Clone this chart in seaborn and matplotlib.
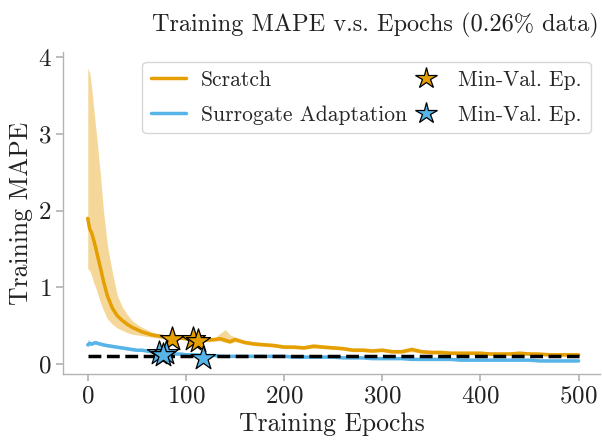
import numpy as np
import pandas as pd
import matplotlib
matplotlib.use("Agg")
import matplotlib.pyplot as plt
import seaborn as sns
from matplotlib.lines import Line2D

# ── Data ──────────────────────────────────────────────────────────────────────
epochs = [0, 2, 4, 6, 8, 10, 13, 16, 20, 25, 30, 35, 40, 45, 50, 55, 60, 65, 70, 75,
          80, 85, 90, 95, 100, 110, 120, 130, 135, 140, 145, 150,
          160, 170, 180, 190, 200, 210, 220, 230, 240, 250, 260, 270, 280, 290, 300,
          310, 320, 330, 340, 350, 360, 370, 380, 390, 400, 410, 420, 430, 440, 450,
          460, 470, 480, 490, 500]

scratch_mean = [1.90, 1.76, 1.71, 1.62, 1.52, 1.41, 1.25, 1.08, 0.89, 0.73, 0.63, 0.57, 0.52, 0.48, 0.45, 0.42, 0.40, 0.38, 0.37, 0.36,
                0.35, 0.35, 0.34, 0.34, 0.33, 0.32, 0.31, 0.32, 0.33, 0.31, 0.29, 0.32,
                0.28, 0.26, 0.25, 0.24, 0.22, 0.22, 0.21, 0.23, 0.22, 0.21, 0.20, 0.18, 0.18, 0.17, 0.18,
                0.16, 0.16, 0.19, 0.16, 0.15, 0.15, 0.14, 0.14, 0.14, 0.14, 0.13, 0.13, 0.13, 0.14, 0.13,
                0.13, 0.12, 0.12, 0.12, 0.12]
scratch_low = [1.24, 1.22, 1.15, 1.06, 1.00, 0.92, 0.80, 0.70, 0.59, 0.52, 0.47, 0.44, 0.41, 0.39, 0.38, 0.37, 0.36, 0.35, 0.34, 0.33,
               0.33, 0.32, 0.32, 0.32, 0.31, 0.30, 0.29, 0.30, 0.30, 0.28, 0.27, 0.29,
               0.26, 0.24, 0.23, 0.22, 0.20, 0.20, 0.19, 0.21, 0.20, 0.19, 0.18, 0.16, 0.16, 0.15, 0.16,
               0.14, 0.14, 0.16, 0.14, 0.13, 0.13, 0.12, 0.12, 0.12, 0.12, 0.11, 0.11, 0.11, 0.12, 0.11,
               0.11, 0.10, 0.10, 0.10, 0.10]
scratch_high = [3.86, 3.80, 3.60, 3.35, 3.10, 2.85, 2.45, 2.00, 1.55, 1.20, 0.90, 0.75, 0.65, 0.57, 0.52, 0.48, 0.45, 0.42, 0.40, 0.39,
                0.38, 0.37, 0.36, 0.36, 0.35, 0.34, 0.33, 0.35, 0.40, 0.45, 0.38, 0.35,
                0.31, 0.29, 0.28, 0.27, 0.25, 0.25, 0.24, 0.27, 0.25, 0.24, 0.23, 0.21, 0.21, 0.20, 0.21,
                0.19, 0.19, 0.22, 0.19, 0.18, 0.18, 0.17, 0.17, 0.17, 0.17, 0.16, 0.16, 0.16, 0.17, 0.16,
                0.15, 0.14, 0.14, 0.14, 0.14]

surr_mean = [0.25, 0.27, 0.26, 0.27, 0.28, 0.27, 0.26, 0.25, 0.24, 0.23, 0.22, 0.21, 0.20, 0.19, 0.18, 0.18, 0.17, 0.16, 0.16, 0.15,
             0.14, 0.14, 0.13, 0.13, 0.12, 0.12, 0.11, 0.11, 0.10, 0.10, 0.10, 0.10,
             0.10, 0.10, 0.10, 0.10, 0.10, 0.09, 0.09, 0.09, 0.09, 0.09, 0.08, 0.08, 0.08, 0.07, 0.07,
             0.07, 0.07, 0.06, 0.06, 0.06, 0.06, 0.06, 0.05, 0.05, 0.05, 0.05, 0.05, 0.05, 0.05, 0.05,
             0.04, 0.04, 0.04, 0.04, 0.04]
surr_low = [0.22, 0.24, 0.24, 0.25, 0.26, 0.25, 0.24, 0.23, 0.22, 0.21, 0.20, 0.19, 0.18, 0.17, 0.17, 0.17, 0.16, 0.15, 0.15, 0.14,
            0.13, 0.13, 0.12, 0.12, 0.11, 0.11, 0.10, 0.10, 0.09, 0.09, 0.09, 0.09,
            0.09, 0.09, 0.09, 0.09, 0.09, 0.08, 0.08, 0.08, 0.08, 0.08, 0.07, 0.07, 0.07, 0.06, 0.06,
            0.06, 0.06, 0.05, 0.05, 0.05, 0.05, 0.05, 0.04, 0.04, 0.04, 0.04, 0.04, 0.04, 0.04, 0.04,
            0.03, 0.03, 0.03, 0.03, 0.03]
surr_high = [0.33, 0.30, 0.28, 0.29, 0.30, 0.29, 0.28, 0.27, 0.26, 0.25, 0.24, 0.23, 0.22, 0.21, 0.20, 0.19, 0.18, 0.17, 0.17, 0.16,
             0.15, 0.15, 0.14, 0.14, 0.13, 0.13, 0.12, 0.12, 0.11, 0.11, 0.11, 0.11,
             0.11, 0.11, 0.11, 0.11, 0.11, 0.10, 0.10, 0.10, 0.10, 0.10, 0.09, 0.09, 0.09, 0.08, 0.08,
             0.08, 0.08, 0.07, 0.07, 0.07, 0.07, 0.07, 0.06, 0.06, 0.06, 0.06, 0.06, 0.06, 0.06, 0.06,
             0.05, 0.05, 0.05, 0.05, 0.05]

# min-validation epochs (one star per seed)
scratch_star_ep = [86, 107, 112]
scratch_star_val = [0.33, 0.33, 0.30]
surr_star_ep = [73, 80, 77, 117]
surr_star_val = [0.15, 0.15, 0.12, 0.08]

baseline = 0.10

ORANGE, BLUE = '#E69F00', '#56B4E9'

df = pd.DataFrame({'epoch': epochs, 'Scratch': scratch_mean, 'Surrogate Adaptation': surr_mean})
long = df.melt(id_vars='epoch', var_name='model', value_name='mape')

# ── Plot ──────────────────────────────────────────────────────────────────────
sns.set_theme(style="ticks", rc={'axes.edgecolor': '.7', 'xtick.color': '.7', 'ytick.color': '.7',
                                 'axes.linewidth': 1.0})
plt.rcParams['font.family'] = 'serif'
plt.rcParams['font.serif'] = ['cmr10']
plt.rcParams['mathtext.fontset'] = 'cm'
plt.rcParams['axes.formatter.use_mathtext'] = True

fig = plt.figure(figsize=(6.02, 4.41), dpi=100)
ax = fig.add_axes([0.105, 0.152, 0.892, 0.73])

ax.fill_between(epochs, scratch_low, scratch_high, color=ORANGE, alpha=0.4, linewidth=0)
ax.fill_between(epochs, surr_low, surr_high, color=BLUE, alpha=0.4, linewidth=0)
sns.lineplot(data=long, x='epoch', y='mape', hue='model', palette={'Scratch': ORANGE, 'Surrogate Adaptation': BLUE},
             linewidth=2.5, ax=ax, legend=False)
ax.hlines(baseline, epochs[0], epochs[-1], colors='black', linestyles='--', linewidth=2.5, zorder=3)

ax.scatter(scratch_star_ep, scratch_star_val, marker='*', s=330, color=ORANGE, edgecolor='black', linewidth=0.9, zorder=4)
ax.scatter(surr_star_ep, surr_star_val, marker='*', s=330, color=BLUE, edgecolor='black', linewidth=0.9, zorder=4)

ax.set_xlim(-25, 522)
ax.set_ylim(-0.13, 4.07)
ax.set_xticks([0, 100, 200, 300, 400, 500])
ax.set_yticks([0, 1, 2, 3, 4])
ax.tick_params(labelsize=18, labelcolor='#222222', length=5)
ax.set_xlabel('Training Epochs', fontsize=18.5, color='#222222', labelpad=3)
ax.set_ylabel('Training MAPE', fontsize=18.5, color='#222222', labelpad=3)
sns.despine(ax=ax)

fig.text(0.623, 0.943, 'Training MAPE v.s. Epochs (0.26% data)', fontsize=17.5, ha='center', va='center', color='#222222')

handles = [Line2D([], [], color=ORANGE, lw=2.5), Line2D([], [], color=BLUE, lw=2.5),
           Line2D([], [], marker='*', ls='', markersize=16, markerfacecolor=ORANGE, markeredgecolor='black', markeredgewidth=0.9),
           Line2D([], [], marker='*', ls='', markersize=16, markerfacecolor=BLUE, markeredgecolor='black', markeredgewidth=0.9)]
labels = ['Scratch', 'Surrogate Adaptation', 'Min-Val. Ep.', 'Min-Val. Ep.']
leg = ax.legend(handles, labels, ncol=2, loc='upper right', fontsize=15.5, frameon=True,
                handlelength=1.6, columnspacing=0.1, handletextpad=0.7, borderaxespad=0.45,
                labelspacing=0.72)
leg.get_frame().set_edgecolor('0.8')

fig.savefig('out.png', dpi=100)
